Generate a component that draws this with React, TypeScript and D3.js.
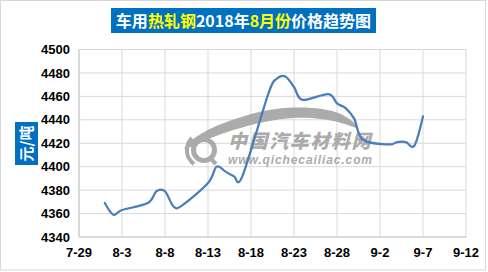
import React from "react";
import * as d3 from "d3";

const dates: string[] = [
  "2018-08-01", "2018-08-02", "2018-08-03", "2018-08-06", "2018-08-07",
  "2018-08-08", "2018-08-09", "2018-08-10", "2018-08-13", "2018-08-14",
  "2018-08-15", "2018-08-16", "2018-08-17", "2018-08-20", "2018-08-21",
  "2018-08-22", "2018-08-23", "2018-08-24", "2018-08-27", "2018-08-28",
  "2018-08-29", "2018-08-30", "2018-08-31", "2018-09-03", "2018-09-04",
  "2018-09-05", "2018-09-06", "2018-09-07",
];
const prices: number[] = [
  4369, 4359, 4363, 4369, 4379,
  4379, 4366, 4367, 4386, 4400,
  4396, 4392, 4392, 4462, 4475,
  4477, 4468, 4457, 4462, 4454,
  4450, 4441, 4423, 4419, 4421,
  4421, 4418, 4443,
];
const xTickLabels: string[] = ["7-29", "8-3", "8-8", "8-13", "8-18", "8-23", "8-28", "9-2", "9-7", "9-12"];
const xTickDates: string[] = [
  "2018-07-29", "2018-08-03", "2018-08-08", "2018-08-13", "2018-08-18",
  "2018-08-23", "2018-08-28", "2018-09-02", "2018-09-07", "2018-09-12",
];
const yTicks: number[] = [4340, 4360, 4380, 4400, 4420, 4440, 4460, 4480, 4500];

const parse = d3.timeParse("%Y-%m-%d");

export default function App() {
  const W = 488, H = 272;
  const x = d3.scaleTime()
    .domain([parse("2018-07-29")!, parse("2018-09-12")!])
    .range([79, 466]);
  const y = d3.scaleLinear().domain([4340, 4500]).range([237, 49.5]);
  const pts: [number, number][] = dates.map((d, i) => [x(parse(d)!), y(prices[i])]);
  const line = d3.line().curve(d3.curveCardinal.tension(0))(pts) || "";
  const grid = "#d9d9d9";
  const font = "'Liberation Sans', Arial, sans-serif";
  const wm = "#a3a3a3";

  return (
    <svg width={W} height={H} style={{ position: "absolute", left: 0, top: 0, background: "#fff" }}>
      <rect x={0.5} y={0.5} width={485} height={269.5} fill="#fff" stroke="#d9d9d9" />
      {/* title */}
      <rect x={111} y={8} width={265} height={25} fill="#0070C0" />
      <text x={243.5} y={26.5} textAnchor="middle" fontSize={16} fontWeight="bold"
        fontFamily="'Noto Sans CJK SC', sans-serif" fill="#fff">
        <tspan>车用</tspan>
        <tspan fill="#FFFF00">热轧钢</tspan>
        <tspan>2018年</tspan>
        <tspan fill="#FFFF00">8月份</tspan>
        <tspan>价格趋势图</tspan>
      </text>
      {/* gridlines */}
      {yTicks.map((t) => (
        <line key={"y" + t} x1={79} x2={466} y1={y(t)} y2={y(t)} stroke={grid} strokeWidth={1} />
      ))}
      {xTickDates.map((d) => (
        <line key={"x" + d} x1={x(parse(d)!)} x2={x(parse(d)!)} y1={49.5} y2={237} stroke={grid} strokeWidth={1} />
      ))}
      <line x1={79} x2={79} y1={49.5} y2={237} stroke="#c8c8c8" />
      <line x1={79} x2={466} y1={237} y2={237} stroke="#c8c8c8" />
      {/* watermark */}
      <g opacity={0.9}>
        <path
          d="M184,149 C194,133 225,121 255,113 C280,106 320,105 341,114 C351,119 356,124 359,129 C348,125 335,120 320,119 C300,116 275,119 255,124 C235,129 212,136 194,146 Z"
          fill={wm}
        />
        <circle cx={204} cy={150} r={10.5} fill="none" stroke={wm} strokeWidth={5} />
        <line x1={209} y1={157} x2={216} y2={164} stroke={wm} strokeWidth={4} />
        <path d="M192,138 A17,17 0 0 0 194,164" fill="none" stroke={wm} strokeWidth={4} />
        <text x={228} y={148} fontSize={19} fontWeight={900} fontStyle="italic" letterSpacing={1.6}
          fontFamily="'Noto Sans CJK SC', sans-serif" fill={wm}>中国汽车材料网</text>
        <text x={228} y={164} fontSize={12} fontWeight="bold" fontStyle="italic" letterSpacing={0.9}
          fontFamily={font} fill={wm}>www.qichecailiac.com</text>
      </g>
      {/* series */}
      <path d={line} fill="none" stroke="#4A7EBB" strokeWidth={2.25} strokeLinejoin="round" strokeLinecap="round" />
      {/* y tick labels */}
      {yTicks.map((t) => (
        <text key={"yl" + t} x={70} y={y(t)} dy="0.36em" textAnchor="end" fontSize={13}
          fontWeight="bold" fontFamily={font} fill="#000">{t}</text>
      ))}
      {/* x tick labels */}
      {xTickDates.map((d, i) => (
        <text key={"xl" + d} x={x(parse(d)!)} y={257} textAnchor="middle" fontSize={13}
          fontWeight="bold" fontFamily={font} fill="#000">{xTickLabels[i]}</text>
      ))}
      {/* y axis title */}
      <rect x={15} y={122} width={23} height={43} fill="#0070C0" />
      <text transform="translate(32,143.5) rotate(-90)" textAnchor="middle" fontSize={15}
        fontWeight="bold" fontFamily="'Noto Sans CJK SC', sans-serif" fill="#fff">元/吨</text>
    </svg>
  );
}
